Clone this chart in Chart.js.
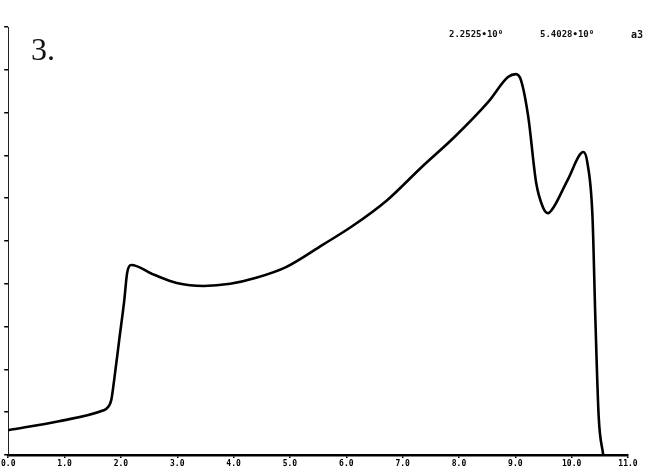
<!DOCTYPE html>
<html>
<head>
<meta charset="utf-8">
<script src="https://cdn.jsdelivr.net/npm/chart.js@4/dist/chart.umd.min.js"></script>
<style>
  html, body { margin: 0; padding: 0; background: #fff; }
  #wrap { width: 667px; height: 476px; position: relative; }
</style>
</head>
<body>
<div id="wrap"><canvas id="plot" width="667" height="476"></canvas></div>
<script>
// values
const xValues = [0.0, 0.9, 1.68, 1.75, 1.83, 1.88, 1.97, 2.06, 2.11, 2.18, 2.59, 2.99, 3.47, 3.94, 4.40, 4.93, 5.58, 6.11, 6.73, 7.34, 7.92, 8.52, 8.87, 9.01, 9.10, 9.23, 9.37, 9.49, 9.58, 9.68, 9.93, 10.21, 10.28, 10.37, 10.42, 10.48, 10.56];
const yValues = [0.58, 0.79, 1.04, 1.09, 1.29, 1.75, 2.69, 3.62, 4.25, 4.44, 4.21, 4.02, 3.95, 4.00, 4.14, 4.39, 4.91, 5.35, 5.96, 6.73, 7.43, 8.25, 8.83, 8.90, 8.76, 7.90, 6.36, 5.79, 5.65, 5.79, 6.43, 7.08, 6.82, 5.56, 3.22, 0.89, 0.0];
const xTicks = [0, 1, 2, 3, 4, 5, 6, 7, 8, 9, 10, 11];
const yTicks = [0, 1, 2, 3, 4, 5, 6, 7, 8, 9, 10];
const panelLabel = "3.";
const headerText = ["2.2525•10⁰", "5.4028•10⁰", "a3"];

const labelsPlugin = {
  id: "labels",
  afterDraw(chart) {
    const ctx = chart.ctx;
    ctx.save();
    ctx.fillStyle = "#111";
    ctx.textBaseline = "alphabetic";
    ctx.font = "32px 'Liberation Serif', 'DejaVu Serif', serif";
    ctx.fillText(panelLabel, 31, 60);
    ctx.font = "bold 9px 'DejaVu Sans Mono', monospace";
    ctx.fillText(headerText[0], 449, 37);
    ctx.fillText(headerText[1], 540, 37);
    ctx.font = "bold 10px 'DejaVu Sans Mono', monospace";
    ctx.fillText(headerText[2], 631, 38);
    ctx.restore();
  },
};

const points = xValues.map((x, i) => ({ x, y: yValues[i] }));

new Chart(document.getElementById("plot"), {
  type: "line",
  data: {
    datasets: [
      {
        data: points,
        borderColor: "#000",
        borderWidth: 2.6,
        pointRadius: 0,
        cubicInterpolationMode: "monotone",
        fill: false,
      },
    ],
  },
  options: {
    responsive: false,
    animation: false,
    layout: { padding: { top: 27, right: 39, left: 0, bottom: 0 } },
    plugins: { legend: { display: false }, tooltip: { enabled: false } },
    scales: {
      x: {
        type: "linear",
        min: 0,
        max: 11,
        afterBuildTicks: (scale) => {
          scale.ticks = xTicks.map((v) => ({ value: v }));
        },
        afterFit: (scale) => {
          scale.height = 21;
        },
        ticks: {
          color: "#000",
          padding: 1,
          maxRotation: 0,
          font: { family: "'DejaVu Sans Mono', monospace", size: 8, weight: "bold" },
          callback: (v) => Number(v).toFixed(1),
        },
        grid: { drawOnChartArea: false, drawTicks: true, tickLength: 3, color: "#000", lineWidth: 1.5 },
        border: { color: "#000", width: 2.5 },
      },
      y: {
        type: "linear",
        min: 0,
        max: 10,
        afterBuildTicks: (scale) => {
          scale.ticks = yTicks.map((v) => ({ value: v }));
        },
        afterFit: (scale) => {
          scale.width = 5;
        },
        ticks: { display: false },
        grid: { drawOnChartArea: false, drawTicks: true, tickLength: 4, color: "#000", lineWidth: 1.5 },
        border: { color: "#222", width: 1, dash: [7, 2] },
      },
    },
  },
  plugins: [labelsPlugin],
});
</script>
</body>
</html>
